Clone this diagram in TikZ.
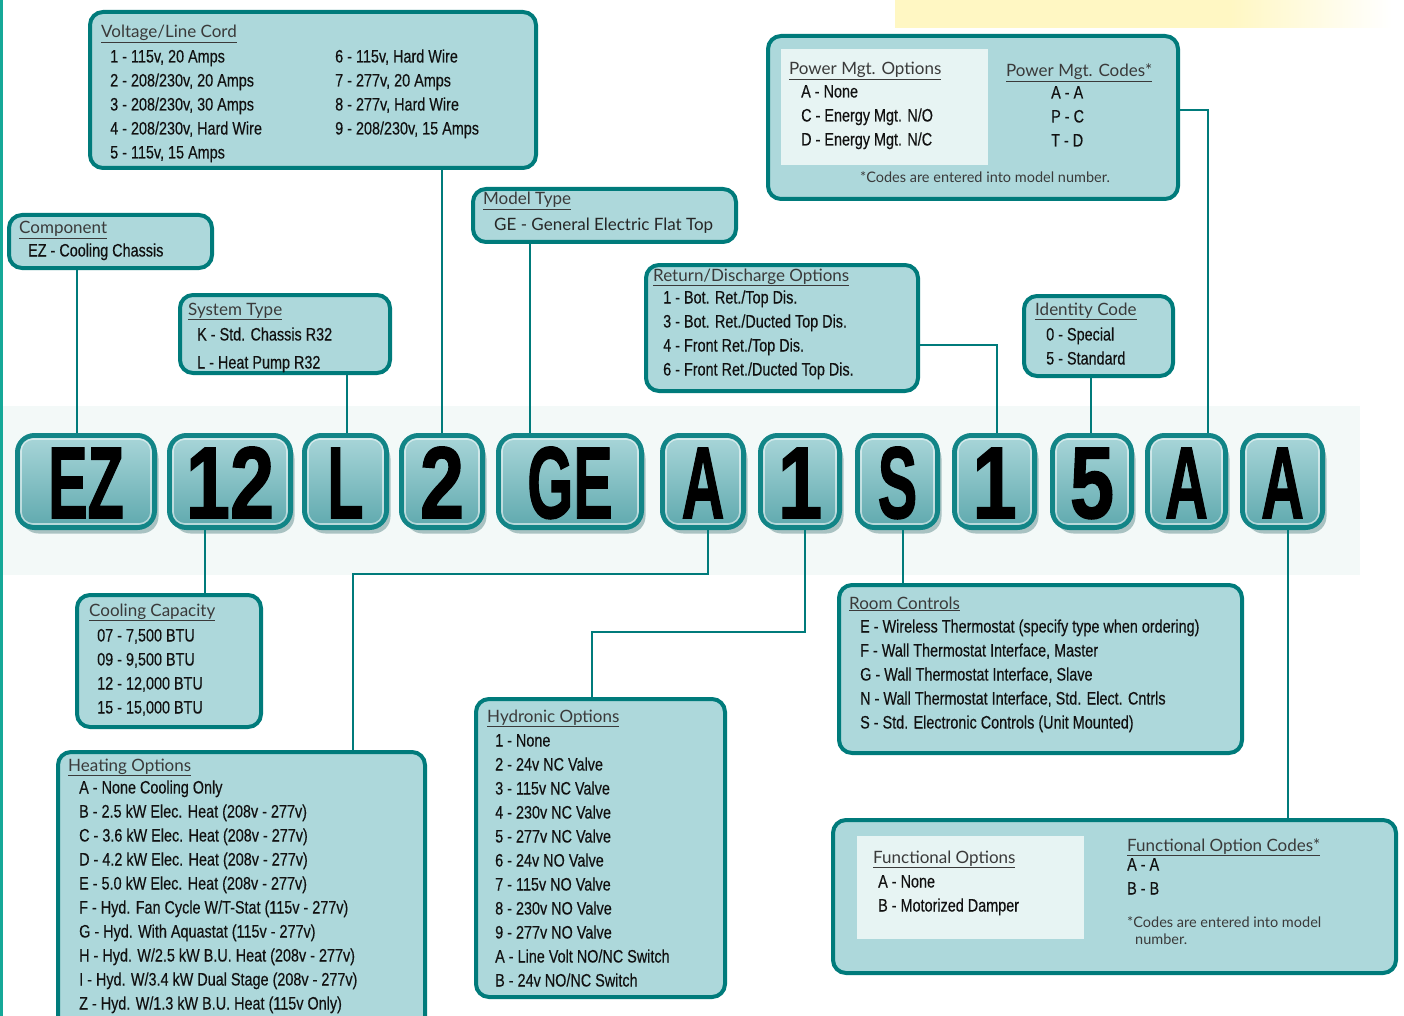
\documentclass[tikz,border=0pt]{standalone}
\usepackage{fontspec}
\usepackage{graphicx}
\usetikzlibrary{shadows,calc}
\setmainfont{Liberation Sans}
\newfontfamily\bodyf[FakeStretch=0.8,FakeBold=0.3]{Liberation Sans}
\newfontfamily\titlef{Lato}
\newfontfamily\codef[FakeBold=1.5]{Liberation Sans}
\definecolor{boxfill}{HTML}{ADD8DB}
\definecolor{boxline}{HTML}{007B7B}
\definecolor{innerc}{HTML}{E7F4F3}
\definecolor{ttlc}{HTML}{3A3A3A}
\definecolor{txtc}{HTML}{111111}
\definecolor{codetop}{HTML}{A9D6D9}
\definecolor{codebot}{HTML}{5FA9AE}
\definecolor{coderim}{HTML}{128587}
\definecolor{bandc}{HTML}{F3F9F8}
\definecolor{edgec}{HTML}{15A898}
\definecolor{yelc}{HTML}{FFF7C3}
\tikzset{
  infobox/.style={draw=boxline, line width=4pt, fill=boxfill, rounded corners=13pt, inner sep=0pt},
  ttlst/.style={anchor=base west, inner sep=0pt, font=\titlef\fontsize{17}{17}\selectfont, text=ttlc},
  itm/.style={anchor=base west, inner sep=0pt, font=\bodyf\fontsize{18}{18}\selectfont, text=txtc},
  notest/.style={anchor=base west, inner sep=0pt, font=\titlef\fontsize{14.5}{14.5}\selectfont, text=ttlc},
  codebox/.style={draw=coderim, line width=5pt, rounded corners=17pt, top color=codetop, bottom color=codebot,
    minimum height=92, inner sep=0pt, text height=73pt, text depth=0pt, text=black,
    font=\codef\bfseries\fontsize{102}{102}\selectfont,
    drop shadow={shadow xshift=4pt, shadow yshift=-6pt, fill=black!45!teal, opacity=0.3}},
  rim/.style={draw=white, opacity=0.55, line width=1.6pt, rounded corners=12pt},
  conn/.style={draw=boxline, line width=2.8pt},
}
\newcommand\ibox[5]{\node[infobox, minimum width={#4-#2-4}, minimum height={#5-#3-4}] (#1) at ({(#2+#4)/2},{(#3+#5)/2}) {};}
\newcommand\ttlnode[4]{\node[ttlst] (#1) at (#2,#3) {\underline{#4}};}
\newcommand\optlines[5]{\foreach [count=\i] \t in {#5} {\node[itm] (#1\i) at (#2,{#3+(\i-1)*#4}) {\t};}}
\newcommand\cbox[5]{\node[codebox, minimum width={#3-5}] (#1) at (#2,481.5) {\scalebox{#4}[1]{#5}};}
\begin{document}
\begin{tikzpicture}[x=1pt,y=-1pt]
\clip (0,0) rectangle (1404,1016);
\fill[white] (0,0) rectangle (1404,1016);
\fill[edgec] (0,0) rectangle (3,1016);
\fill[yelc] (895,0) rectangle (1230,28);
\shade[left color=yelc, right color=white] (1230,0) rectangle (1392,28);
\fill[bandc] (3,406) rectangle (1360,575);

% info boxes
\ibox{volt}{88}{10}{538}{170}
\ibox{comp}{7}{213}{214}{270}
\ibox{sys}{178}{293}{392}{375}
\ibox{model}{471}{187}{738}{244}
\ibox{ret}{644}{263}{920}{393}
\ibox{pow}{766}{34}{1180}{201}
\ibox{ident}{1022}{294}{1175}{378}
\ibox{cool}{75}{593}{263}{729}
\ibox{heat}{56}{750}{427}{1045}
\ibox{hyd}{474}{697}{727}{999}
\ibox{room}{837}{583}{1244}{755}
\ibox{func}{831}{818}{1398}{975}
\node[fill=innerc, inner sep=0pt, minimum width=207, minimum height=116] (powin) at (884.5,107) {};
\node[fill=innerc, inner sep=0pt, minimum width=227, minimum height=103] (funcin) at (970.5,887.5) {};

% code boxes
\cbox{bEZ}{86}{142}{0.58}{EZ}
\cbox{b12}{230}{126}{0.78}{12}
\cbox{bL}{345.5}{87}{0.58}{L}
\cbox{bTwo}{442}{86}{0.78}{2}
\cbox{bGE}{570}{148}{0.58}{GE}
\cbox{bA}{703}{86}{0.58}{A}
\cbox{bOne}{800}{84}{0.78}{1}
\cbox{bS}{897.5}{85}{0.58}{S}
\cbox{bOneB}{994.5}{85}{0.78}{1}
\cbox{bFive}{1092}{84}{0.78}{5}
\cbox{bAA}{1186.5}{83}{0.58}{A}
\cbox{bAAA}{1282.5}{85}{0.58}{A}
\foreach \n in {bEZ,b12,bL,bTwo,bGE,bA,bOne,bS,bOneB,bFive,bAA,bAAA}
  \draw[rim] ([shift={(6,6)}]\n.north west) rectangle ([shift={(-6,-6)}]\n.south east);

% connectors
\draw[conn] (comp.south -| 77,0) -- (bEZ.north -| 77,0);
\draw[conn] (sys.south -| 347,0) -- (bL.north -| 347,0);
\draw[conn] (volt.south -| 442,0) -- (bTwo.north -| 442,0);
\draw[conn] (model.south -| 530,0) -- (bGE.north -| 530,0);
\draw[conn] (ret.east |- 0,345) -| (bOneB.north -| 997,0);
\draw[conn] (ident.south -| 1091,0) -- (bFive.north -| 1091,0);
\draw[conn] (pow.east |- 0,110) -| (bAA.north -| 1208,0);
\draw[conn] (b12.south -| 205,0) -- (cool.north -| 205,0);
\draw[conn] (bA.south -| 708,0) -- ++(0,44) -| (heat.north -| 353,0);
\draw[conn] (bOne.south -| 805,0) -- ++(0,102) -| (hyd.north -| 592,0);
\draw[conn] (bS.south -| 903,0) -- (room.north -| 903,0);
\draw[conn] (bAAA.south -| 1288,0) -- (func.north -| 1288,0);

% texts
\ttlnode{voltT}{101}{38}{Voltage/Line Cord}
\optlines{voltL}{110}{62.5}{24}{{1 - 115v, 20 Amps},{2 - 208/230v, 20 Amps},{3 - 208/230v, 30 Amps},{4 - 208/230v, Hard Wire},{5 - 115v, 15 Amps}}
\optlines{voltR}{335}{62.5}{24}{{6 - 115v, Hard Wire},{7 - 277v, 20 Amps},{8 - 277v, Hard Wire},{9 - 208/230v, 15 Amps}}
\ttlnode{compT}{19}{234}{Component}
\optlines{compL}{28}{256.5}{24}{{EZ - Cooling Chassis}}
\ttlnode{sysT}{188}{315}{System Type}
\optlines{sysL}{197}{340.5}{28}{{K - Std. Chassis R32},{L - Heat Pump R32}}
\ttlnode{modelT}{483}{205}{Model Type}
\node[ttlst, text=black!85] (modelL) at (494,230) {GE - General Electric Flat Top};
\ttlnode{retT}{653}{281}{Return/Discharge Options}
\optlines{retL}{663}{303.5}{24}{{1 - Bot. Ret./Top Dis.},{3 - Bot. Ret./Ducted Top Dis.},{4 - Front Ret./Top Dis.},{6 - Front Ret./Ducted Top Dis.}}
\ttlnode{powT}{789}{75}{Power Mgt. Options}
\optlines{powL}{801}{97.5}{24}{{A - None},{C - Energy Mgt. N/O},{D - Energy Mgt. N/C}}
\ttlnode{pcodT}{1006}{77}{Power Mgt. Codes*}
\optlines{pcodL}{1051}{98.5}{24}{{A - A},{P - C},{T - D}}
\node[notest, anchor=base] (powN) at (985,183) {*Codes are entered into model number.};
\ttlnode{identT}{1035}{315}{Identity Code}
\optlines{identL}{1046}{340.5}{24}{{0 - Special},{5 - Standard}}
\ttlnode{coolT}{89}{616}{Cooling Capacity}
\optlines{coolL}{97}{641.5}{24}{{07 - 7,500 BTU},{09 - 9,500 BTU},{12 - 12,000 BTU},{15 - 15,000 BTU}}
\ttlnode{heatT}{68}{771}{Heating Options}
\optlines{heatL}{79}{793.5}{24}{{A - None Cooling Only},{B - 2.5 kW Elec. Heat (208v - 277v)},{C - 3.6 kW Elec. Heat (208v - 277v)},{D - 4.2 kW Elec. Heat (208v - 277v)},{E - 5.0 kW Elec. Heat (208v - 277v)},{F - Hyd. Fan Cycle W/T-Stat (115v - 277v)},{G - Hyd. With Aquastat (115v - 277v)},{H - Hyd. W/2.5 kW B.U. Heat (208v - 277v)},{I - Hyd. W/3.4 kW Dual Stage (208v - 277v)},{Z - Hyd. W/1.3 kW B.U. Heat (115v Only)}}
\ttlnode{hydT}{487}{722}{Hydronic Options}
\optlines{hydL}{495}{746.5}{24}{{1 - None},{2 - 24v NC Valve},{3 - 115v NC Valve},{4 - 230v NC Valve},{5 - 277v NC Valve},{6 - 24v NO Valve},{7 - 115v NO Valve},{8 - 230v NO Valve},{9 - 277v NO Valve},{A - Line Volt NO/NC Switch},{B - 24v NO/NC Switch}}
\ttlnode{roomT}{849}{609}{Room Controls}
\optlines{roomL}{860}{632.5}{24}{{E - Wireless Thermostat (specify type when ordering)},{F - Wall Thermostat Interface, Master},{G - Wall Thermostat Interface, Slave},{N - Wall Thermostat Interface, Std. Elect. Cntrls},{S - Std. Electronic Controls (Unit Mounted)}}
\ttlnode{funcT}{873}{863}{Functional Options}
\optlines{funcL}{878}{887.5}{24}{{A - None},{B - Motorized Damper}}
\ttlnode{fcodT}{1127}{851}{Functional Option Codes*}
\optlines{fcodL}{1127}{870.5}{24}{{A - A},{B - B}}
\node[notest] (funcN1) at (1127,927) {*Codes are entered into model};
\node[notest] (funcN2) at (1135,944) {number.};
\end{tikzpicture}
\end{document}
